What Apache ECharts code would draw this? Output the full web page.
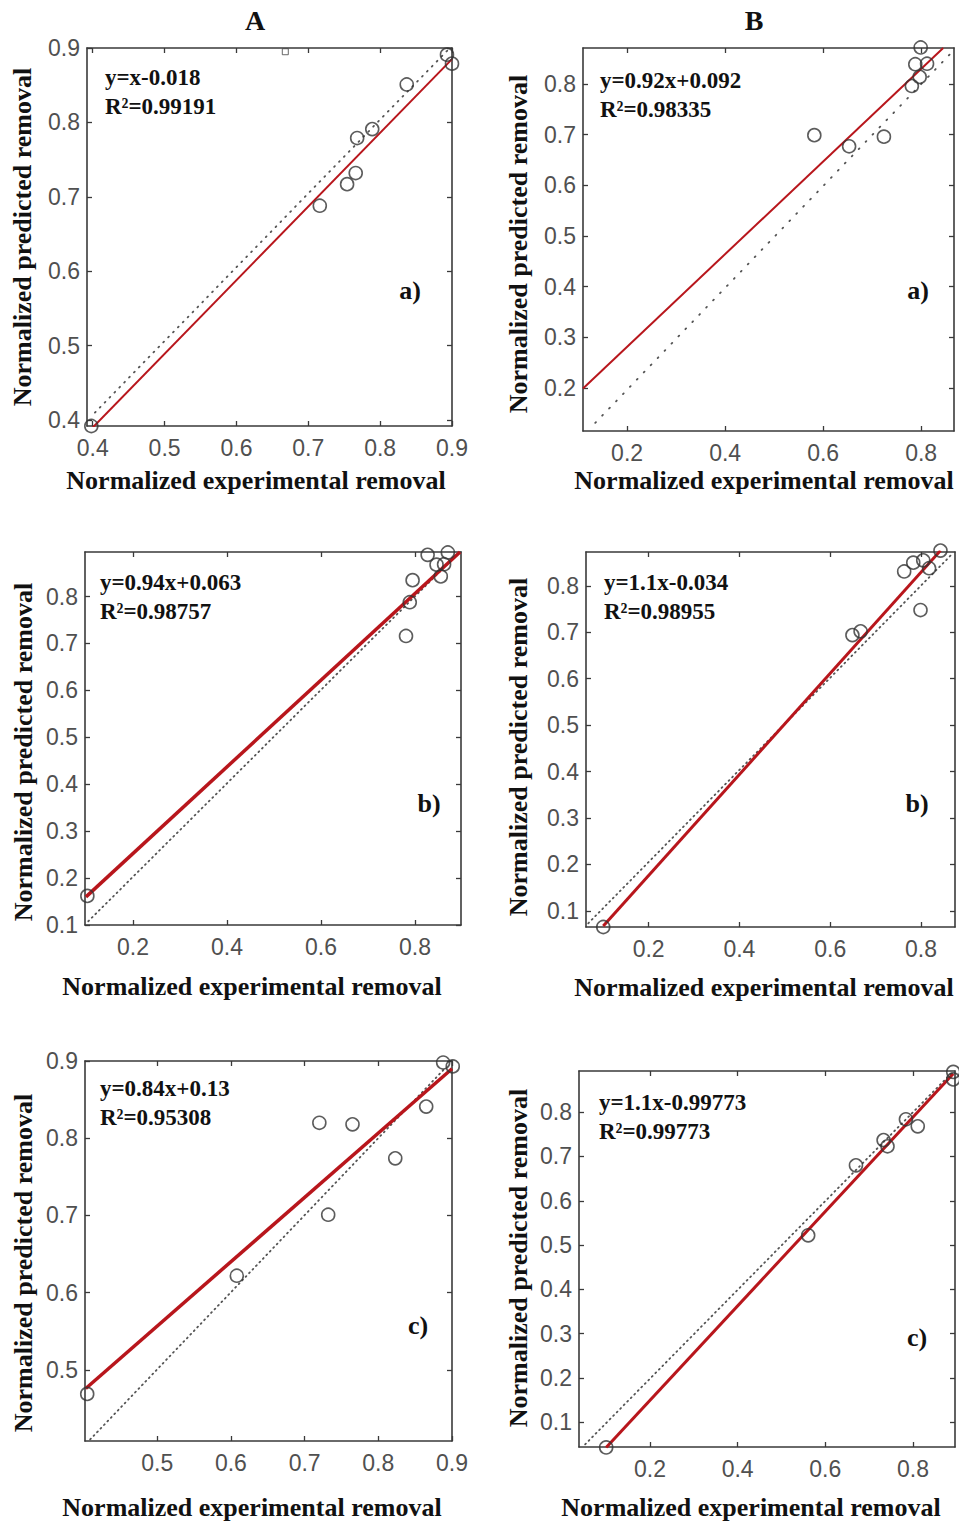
<!DOCTYPE html>
<html><head><meta charset="utf-8">
<script src="https://cdn.jsdelivr.net/npm/echarts@6/dist/echarts.min.js"></script>
<style>html,body{margin:0;padding:0;background:#fff}#c{width:959px;height:1523px}</style>
</head><body><div id="c"></div>
<script>
// ===== DATA =====
// Panel A-a
const expA_a  = [0.398,0.716,0.754,0.766,0.768,0.789,0.837,0.893,0.900];
const predA_a = [0.392,0.688,0.717,0.732,0.779,0.791,0.851,0.891,0.879];
const fitA_a  = [[0.400,0.390],[0.900,0.885]];
const refA_a  = [[0.403,0.410],[0.897,0.900]];
const stray_A_a = [[0.668,0.895]];
const eqA_a   = ['y=x-0.018','R²=0.99191'];
const xTicksA_a = [0.4,0.5,0.6,0.7,0.8,0.9];
const yTicksA_a = [0.4,0.5,0.6,0.7,0.8,0.9];
const xRangeA_a = [0.392,0.900], yRangeA_a = [0.392,0.900];
// Panel B-a
const expB_a  = [0.582,0.653,0.724,0.781,0.788,0.797,0.799,0.812];
const predB_a = [0.699,0.677,0.696,0.796,0.839,0.814,0.872,0.840];
const fitB_a  = [[0.110,0.199],[0.845,0.871]];
const refB_a  = [[0.135,0.131],[0.860,0.860]];
const eqB_a   = ['y=0.92x+0.092','R²=0.98335'];
const xTicksB_a = [0.2,0.4,0.6,0.8];
const yTicksB_a = [0.2,0.3,0.4,0.5,0.6,0.7,0.8];
const xRangeB_a = [0.110,0.867], yRangeB_a = [0.115,0.871];
// Panel A-b
const expA_b  = [0.103,0.781,0.789,0.795,0.827,0.846,0.855,0.862,0.870];
const predA_b = [0.162,0.716,0.788,0.835,0.889,0.868,0.843,0.869,0.894];
const fitA_b  = [[0.100,0.160],[0.896,0.895]];
const refA_b  = [[0.105,0.108],[0.890,0.890]];
const eqA_b   = ['y=0.94x+0.063','R²=0.98757'];
const xTicksA_b = [0.2,0.4,0.6,0.8];
const yTicksA_b = [0.1,0.2,0.3,0.4,0.5,0.6,0.7,0.8];
const xRangeA_b = [0.098,0.898], yRangeA_b = [0.100,0.895];
// Panel B-b
const expB_b  = [0.100,0.649,0.667,0.763,0.783,0.805,0.818,0.799,0.843];
const predB_b = [0.065,0.694,0.702,0.831,0.850,0.855,0.838,0.748,0.876];
const fitB_b  = [[0.100,0.067],[0.843,0.876]];
const refB_b  = [[0.067,0.073],[0.865,0.865]];
const eqB_b   = ['y=1.1x-0.034','R²=0.98955'];
const xTicksB_b = [0.2,0.4,0.6,0.8];
const yTicksB_b = [0.1,0.2,0.3,0.4,0.5,0.6,0.7,0.8];
const xRangeB_b = [0.062,0.875], yRangeB_b = [0.065,0.873];
// Panel A-c
const expA_c  = [0.405,0.608,0.720,0.732,0.765,0.823,0.865,0.888,0.901];
const predA_c = [0.469,0.622,0.820,0.701,0.818,0.774,0.841,0.898,0.893];
const fitA_c  = [[0.403,0.476],[0.900,0.890]];
const refA_c  = [[0.409,0.410],[0.890,0.890]];
const eqA_c   = ['y=0.84x+0.13','R²=0.95308'];
const xTicksA_c = [0.5,0.6,0.7,0.8,0.9];
const yTicksA_c = [0.5,0.6,0.7,0.8,0.9];
const xRangeA_c = [0.402,0.900], yRangeA_c = [0.408,0.900];
// Panel B-c
const expB_c  = [0.100,0.561,0.670,0.733,0.742,0.784,0.811,0.892,0.892];
const predB_c = [0.043,0.522,0.680,0.737,0.723,0.784,0.768,0.891,0.874];
const fitB_c  = [[0.100,0.043],[0.892,0.887]];
const refB_c  = [[0.052,0.050],[0.890,0.890]];
const eqB_c   = ['y=1.1x-0.99773','R²=0.99773'];
const xTicksB_c = [0.2,0.4,0.6,0.8];
const yTicksB_c = [0.1,0.2,0.3,0.4,0.5,0.6,0.7,0.8];
const xRangeB_c = [0.038,0.896], yRangeB_c = [0.044,0.893];

const columnTitles = ['A','B'];
const panelLetters = ['a)','a)','b)','b)','c)','c)'];
const xTitle = 'Normalized experimental removal';
const yTitle = 'Normalized predicted removal';

// ===== LAYOUT =====
const panels = [
  {exp:expA_a,pred:predA_a,fit:fitA_a,ref:refA_a,eq:eqA_a,xt:xTicksA_a,yt:yTicksA_a,xr:xRangeA_a,yr:yRangeA_a,
   box:[87,48,365,378], eqPos:[105,77], letPos:[410,290], xtPos:[256,480], ytPos:[22,237], fitW:2, dash:[1,6]},
  {exp:expB_a,pred:predB_a,fit:fitB_a,ref:refB_a,eq:eqB_a,xt:xTicksB_a,yt:yTicksB_a,xr:xRangeB_a,yr:yRangeB_a,
   box:[583,48,371,383], eqPos:[600,80], letPos:[918,290], xtPos:[764,480], ytPos:[518,244], fitW:2, dash:[1,9]},
  {exp:expA_b,pred:predA_b,fit:fitA_b,ref:refA_b,eq:eqA_b,xt:xTicksA_b,yt:yTicksA_b,xr:xRangeA_b,yr:yRangeA_b,
   box:[85,552,376,373], eqPos:[100,582], letPos:[429,803], xtPos:[252,986], ytPos:[23,752], fitW:3.5, dash:[1,4]},
  {exp:expB_b,pred:predB_b,fit:fitB_b,ref:refB_b,eq:eqB_b,xt:xTicksB_b,yt:yTicksB_b,xr:xRangeB_b,yr:yRangeB_b,
   box:[586,552,369,375], eqPos:[604,582], letPos:[917,803], xtPos:[764,987], ytPos:[518,747], fitW:3, dash:[1,4]},
  {exp:expA_c,pred:predA_c,fit:fitA_c,ref:refA_c,eq:eqA_c,xt:xTicksA_c,yt:yTicksA_c,xr:xRangeA_c,yr:yRangeA_c,
   box:[85,1061,367,380], eqPos:[100,1088], letPos:[418,1325], xtPos:[252,1507], ytPos:[23,1263], fitW:3.5, dash:[1,4]},
  {exp:expB_c,pred:predB_c,fit:fitB_c,ref:refB_c,eq:eqB_c,xt:xTicksB_c,yt:yTicksB_c,xr:xRangeB_c,yr:yRangeB_c,
   box:[579,1071,376,376], eqPos:[599,1102], letPos:[917,1337], xtPos:[751,1507], ytPos:[518,1258], fitW:3, dash:[1,4]}
];

const LBL_FONT = '"Liberation Sans",Arial,sans-serif';
const SERIF = '"Liberation Serif","Times New Roman",serif';
const AX = '#3a3a3a';
const fmt = v => (Math.round(v*10)/10).toFixed(1);

const grid=[], xAxis=[], yAxis=[], series=[], graphic=[];
panels.forEach((p,i)=>{
  grid.push({left:p.box[0], top:p.box[1], width:p.box[2], height:p.box[3], show:false, containLabel:false});
  const common = {type:'value', gridIndex:i, splitLine:{show:false},
    axisLine:{show:true, onZero:false, lineStyle:{color:AX, width:1.6}}};
  xAxis.push(Object.assign({}, common, {position:'bottom', min:p.xr[0], max:p.xr[1],
    axisTick:{show:true, inside:true, length:5, customValues:p.xt, lineStyle:{color:AX,width:1.3}},
    axisLabel:{show:true, customValues:p.xt, formatter:fmt, margin:10, color:'#505050', fontSize:23, fontFamily:LBL_FONT}}));
  xAxis.push(Object.assign({}, common, {position:'top', min:p.xr[0], max:p.xr[1],
    axisTick:{show:true, inside:true, length:5, customValues:p.xt, lineStyle:{color:AX,width:1.3}},
    axisLabel:{show:false}}));
  yAxis.push(Object.assign({}, common, {position:'left', min:p.yr[0], max:p.yr[1],
    axisTick:{show:true, inside:true, length:5, customValues:p.yt, lineStyle:{color:AX,width:1.3}},
    axisLabel:{show:true, customValues:p.yt, formatter:fmt, margin:7, color:'#505050', fontSize:23, fontFamily:LBL_FONT}}));
  yAxis.push(Object.assign({}, common, {position:'right', min:p.yr[0], max:p.yr[1],
    axisTick:{show:true, inside:true, length:5, customValues:p.yt, lineStyle:{color:AX,width:1.3}},
    axisLabel:{show:false}}));
  const xi = i*2, yi = i*2;
  series.push({type:'line', xAxisIndex:xi, yAxisIndex:yi, data:p.ref, symbol:'none', silent:true,
    lineStyle:{color:'#555', width:1.8, type:p.dash, cap:'round'}, z:2});
  series.push({type:'line', xAxisIndex:xi, yAxisIndex:yi, data:p.fit, symbol:'none', silent:true,
    lineStyle:{color:'#b8161c', width:p.fitW}, z:3});
  series.push({type:'scatter', xAxisIndex:xi, yAxisIndex:yi, clip:false,
    data:p.exp.map((x,k)=>[x,p.pred[k]]), symbol:'circle', symbolSize:13,
    itemStyle:{color:'rgba(0,0,0,0)', borderColor:'#333', borderWidth:1.6}, z:4});
  graphic.push({type:'text', x:p.eqPos[0], y:p.eqPos[1], style:{text:p.eq[0], font:'bold 23px '+SERIF, fill:'#111', textVerticalAlign:'middle'}});
  graphic.push({type:'text', x:p.eqPos[0], y:p.eqPos[1]+29, style:{text:p.eq[1], font:'bold 23px '+SERIF, fill:'#111', textVerticalAlign:'middle'}});
  graphic.push({type:'text', x:p.letPos[0], y:p.letPos[1], style:{text:panelLetters[i], font:'bold 26px '+SERIF, fill:'#111', textAlign:'center', textVerticalAlign:'middle'}});
  graphic.push({type:'text', x:p.xtPos[0], y:p.xtPos[1], style:{text:xTitle, font:'bold 26px '+SERIF, fill:'#111', textAlign:'center', textVerticalAlign:'middle'}});
  graphic.push({type:'text', x:p.ytPos[0], y:p.ytPos[1], rotation:Math.PI/2, style:{text:yTitle, font:'bold 26px '+SERIF, fill:'#111', textAlign:'center', textVerticalAlign:'middle'}});
});
// stray small square marker in panel A-a
series.push({type:'scatter', xAxisIndex:0, yAxisIndex:0, clip:false, data:stray_A_a, symbol:'rect', symbolSize:6,
  itemStyle:{color:'rgba(0,0,0,0)', borderColor:'#444', borderWidth:1}, z:4});

graphic.push({type:'text', x:255, y:20, style:{text:columnTitles[0], font:'bold 28px '+SERIF, fill:'#111', textAlign:'center', textVerticalAlign:'middle'}});
graphic.push({type:'text', x:754, y:20, style:{text:columnTitles[1], font:'bold 28px '+SERIF, fill:'#111', textAlign:'center', textVerticalAlign:'middle'}});

const chart = echarts.init(document.getElementById('c'), null, {renderer:'svg'});
chart.setOption({animation:false, backgroundColor:'#fff', grid, xAxis, yAxis, series, graphic});
</script></body></html>
